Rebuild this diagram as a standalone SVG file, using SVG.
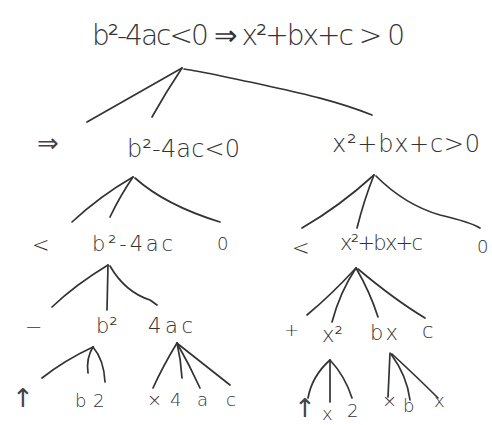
<svg xmlns="http://www.w3.org/2000/svg" width="492" height="425" viewBox="0 0 492 425">
<style>
text{font-family:"DejaVu Sans","Liberation Sans",sans-serif;font-weight:200;fill:#333;}
.t28{font-size:28px;}
.t24{font-size:24px;}
.t21{font-size:21px;}
.t18{font-size:18px;}
.ar{font-family:"DejaVu Sans",sans-serif;font-weight:400;font-size:26px;fill:#444;}
.c path{fill:none;stroke:#333;stroke-width:1.7;stroke-linecap:round;stroke-linejoin:round;}
</style>
<rect width="492" height="425" fill="#fff"/>
<g class="c" id="connectors">
<path d="M182,68 Q140,92 87,122"/>
<path d="M182,68 Q166,92 152,117"/>
<path d="M184,69 C200,71 220,76 250,82 C285,90 330,98 372,115"/>
<path d="M133,177 Q100,196 72,222"/>
<path d="M133,177 Q120,196 110,217"/>
<path d="M135,178 Q165,205 220,222"/>
<path d="M374,175 Q340,206 302,228"/>
<path d="M374,175 Q364,200 357,228"/>
<path d="M376,176 Q405,205 440,215 Q470,222 480,228"/>
<path d="M108,265 Q75,285 52,307"/>
<path d="M108,265 L107,310"/>
<path d="M110,266 Q125,292 150,300 L157,305"/>
<path d="M356,268 Q330,296 307,315"/>
<path d="M356,268 Q340,292 332,322"/>
<path d="M356,268 Q370,292 378,317"/>
<path d="M358,269 Q395,300 425,318"/>
<path d="M93,347 Q65,360 42,378"/>
<path d="M93,347 Q86,358 88,373"/>
<path d="M93,347 Q104,360 105,382"/>
<path d="M177,343 Q163,366 153,388"/>
<path d="M177,343 Q181,360 182,378"/>
<path d="M177,343 Q190,366 200,388"/>
<path d="M178,344 Q206,366 230,385"/>
<path d="M330,360 Q312,376 308,398"/>
<path d="M330,360 L330,402"/>
<path d="M330,360 Q345,376 352,398"/>
<path d="M390,353 L388,397"/>
<path d="M391,354 Q407,376 410,400"/>
<path d="M392,354 Q418,378 438,398"/>
</g>
<g id="root"><text class="t28" x="92" y="45" textLength="313" lengthAdjust="spacing">b²-4ac&lt;0 ⇒ x²+bx+c &gt; 0</text></g>
<g id="implies"><text class="ar" x="37" y="152">⇒</text></g>
<g id="ineqL"><text class="t24" x="127" y="157" textLength="113" lengthAdjust="spacing">b²-4ac&lt;0</text></g>
<g id="ineqR"><text class="t24" x="332" y="152" textLength="148" lengthAdjust="spacing">x²+bx+c&gt;0</text></g>
<g id="ltL"><text class="t21" x="32" y="252">&lt;</text></g>
<g id="discr"><text class="t21" x="92" y="251" textLength="81" lengthAdjust="spacing">b²-4ac</text></g>
<g id="zeroL"><text class="t18" x="217" y="250">0</text></g>
<g id="ltR"><text class="t21" x="292" y="255">&lt;</text></g>
<g id="poly"><text class="t21" x="340" y="250" textLength="83" lengthAdjust="spacing">x²+bx+c</text></g>
<g id="zeroR"><text class="t18" x="477" y="253">0</text></g>
<g id="minus"><text class="t21" x="25" y="334">−</text></g>
<g id="bsq"><text class="t21" x="96" y="333">b²</text></g>
<g id="fourac"><text class="t21" x="148" y="333" textLength="45" lengthAdjust="spacing">4ac</text></g>
<g id="plus"><text class="t18" x="284" y="336">+</text></g>
<g id="xsq"><text class="t21" x="322" y="342">x²</text></g>
<g id="bx"><text class="t21" x="370" y="340" textLength="28" lengthAdjust="spacing">bx</text></g>
<g id="c1"><text class="t21" x="422" y="338">c</text></g>
<g id="pow1"><text class="ar" x="12" y="407">↑</text></g>
<g id="b1"><text class="t18" x="75" y="407">b</text></g>
<g id="two1"><text class="t18" x="93" y="407">2</text></g>
<g id="times1"><text class="t18" x="147" y="406">×</text></g>
<g id="four"><text class="t18" x="170" y="406">4</text></g>
<g id="a"><text class="t18" x="197" y="406">a</text></g>
<g id="c2"><text class="t18" x="226" y="406">c</text></g>
<g id="pow2"><text class="ar" x="294" y="417">↑</text></g>
<g id="x1"><text class="t18" x="322" y="420">x</text></g>
<g id="two2"><text class="t18" x="347" y="417">2</text></g>
<g id="times2"><text class="t18" x="382" y="407">×</text></g>
<g id="b2"><text class="t18" x="403" y="412">b</text></g>
<g id="x2"><text class="t18" x="434" y="407">x</text></g>
</svg>
